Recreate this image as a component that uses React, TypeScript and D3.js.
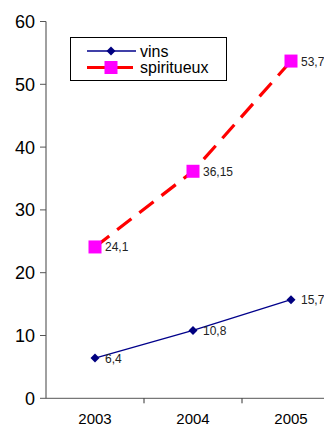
import React from "react";
import * as d3 from "d3";

const years = ["2003", "2004", "2005"];
const vins = [6.4, 10.8, 15.7];
const spiritueux = [24.1, 36.15, 53.7];
const vinsLabels = ["6,4", "10,8", "15,7"];
const spiritLabels = ["24,1", "36,15", "53,7"];
const yTicks = [0, 10, 20, 30, 40, 50, 60];

export default function App() {
  const W = 324, H = 426;
  const x0 = 46, bw = 98;
  const x = d3.scaleBand().domain(years).range([x0, x0 + bw * 3]);
  const y = d3.scaleLinear().domain([0, 60]).range([398.3, 21.5]);
  const cx = (d: string) => (x(d) as number) + x.bandwidth() / 2;
  const line = d3.line<number>().x((_, i) => cx(years[i])).y((d) => y(d));
  const font = "Liberation Sans, Arial, sans-serif";
  const diamond = "M0,-4.5L4.5,0L0,4.5L-4.5,0Z";
  return (
    <svg width={W} height={H} style={{ position: "absolute", left: 0, top: 0, background: "#fff" }} fontFamily={font}>
      {/* y axis */}
      <line x1={x0} x2={x0} y1={y(60)} y2={y(0)} stroke="#808080" strokeWidth={1.5} />
      {yTicks.map((t) => (
        <g key={t}>
          <line x1={x0 - 6} x2={x0} y1={y(t)} y2={y(t)} stroke="#555" strokeWidth={1} />
          <text x={35} y={y(t) + 6.5} textAnchor="end" fontSize={18} fill="#000">{t}</text>
        </g>
      ))}
      {/* x axis */}
      <line x1={x0} x2={W} y1={y(0)} y2={y(0)} stroke="#555" strokeWidth={1} />
      {years.map((yr, i) => (
        <g key={yr}>
          {i > 0 && <line x1={x(yr)} x2={x(yr)} y1={y(0)} y2={y(0) + 5} stroke="#333" strokeWidth={1} />}
          <text x={cx(yr)} y={424} textAnchor="middle" fontSize={15} fill="#000">{yr}</text>
        </g>
      ))}
      {/* vins */}
      <path d={line(vins) as string} fill="none" stroke="#00008B" strokeWidth={1.3} />
      {vins.map((v, i) => (
        <g key={i}>
          <path d={diamond} transform={`translate(${cx(years[i])},${y(v)})`} fill="#000080" />
          <text x={cx(years[i]) + 10} y={y(v) + 4.5} fontSize={12} fill="#222">{vinsLabels[i]}</text>
        </g>
      ))}
      {/* spiritueux */}
      <path d={line(spiritueux) as string} fill="none" stroke="#FF0000" strokeWidth={3.2} strokeDasharray="18,10" />
      {spiritueux.map((v, i) => (
        <g key={i}>
          <rect x={cx(years[i]) - 6.5} y={y(v) - 6.5} width={13} height={13} fill="#FF00FF" />
          <text x={cx(years[i]) + 10} y={y(v) + 4.5} fontSize={12} fill="#222">{spiritLabels[i]}</text>
        </g>
      ))}
      {/* legend */}
      <rect x={70.5} y={37.5} width={156} height={43} fill="#fff" stroke="#000" strokeWidth={1} />
      <line x1={87} x2={136} y1={51} y2={51} stroke="#00008B" strokeWidth={1.3} />
      <path d={diamond} transform="translate(111,51)" fill="#000080" />
      <text x={140} y={56.5} fontSize={16} fill="#000">vins</text>
      <line x1={87} x2={136} y1={67.5} y2={67.5} stroke="#FF0000" strokeWidth={3.2} strokeDasharray="18,10" />
      <rect x={104.5} y={61} width={13} height={13} fill="#FF00FF" />
      <text x={140} y={73} fontSize={16} fill="#000">spiritueux</text>
    </svg>
  );
}
